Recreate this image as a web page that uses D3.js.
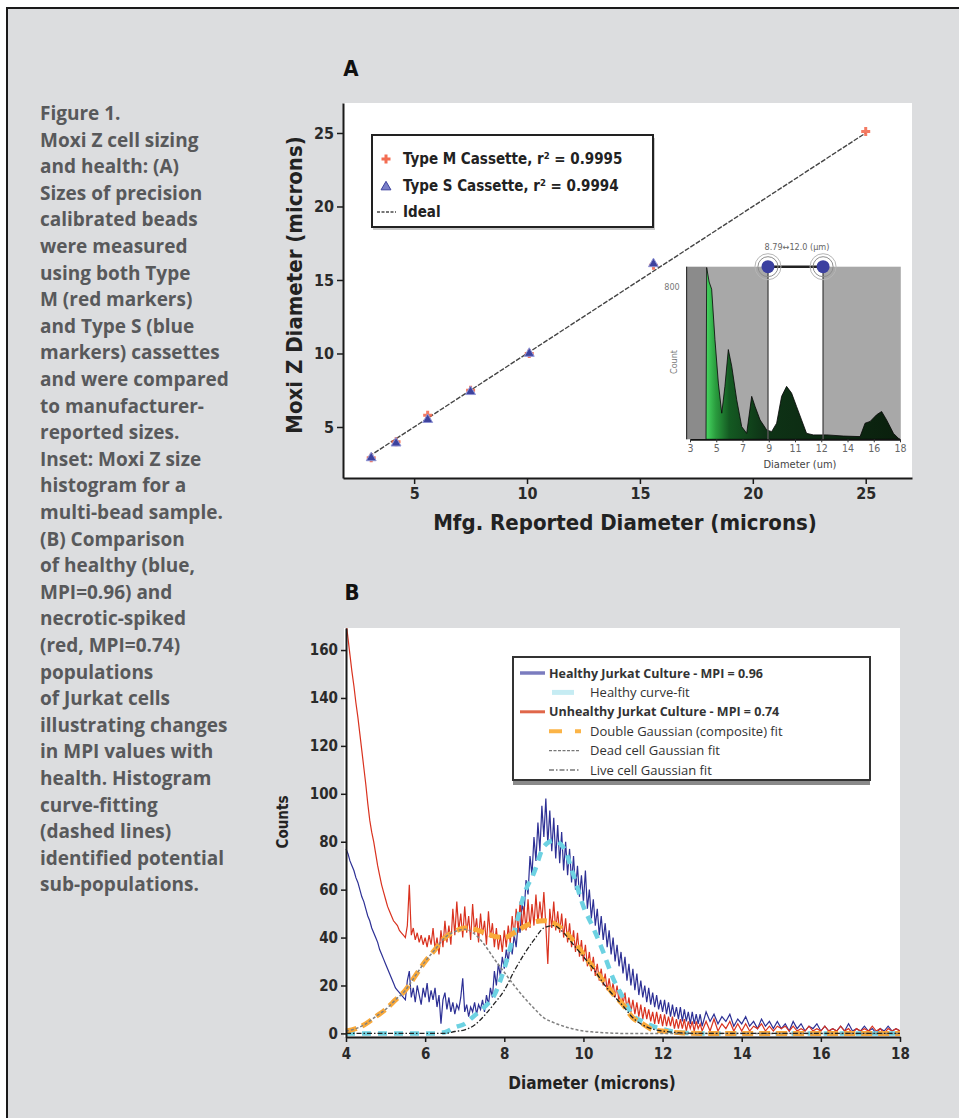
<!DOCTYPE html>
<html lang="en">
<head>
<meta charset="UTF-8">
<title>Figure 1 - Moxi Z cell sizing and health</title>
<script src="https://d3js.org/d3.v7.min.js"></script>
<style>
  html, body { margin: 0; padding: 0; background: #fff; }
  svg { display: block; }
  .cond { font-family: "Liberation Sans Narrow", "DejaVu Sans Condensed", "Roboto", sans-serif; font-weight: bold; }
  .caption { font-family: "Open Sans", sans-serif; font-weight: bold; font-size: 19px; fill: #58595b; }
  .leg { font-family: "Open Sans", sans-serif; fill: #333; }
</style>
</head>
<body>
<svg id="fig" width="959" height="1118"></svg>
<script>
// ---------- caption ----------
const captionLines = [
  "Figure 1.", "Moxi Z cell sizing", "and health: (A)", "Sizes of precision",
  "calibrated beads", "were measured", "using both Type", "M (red markers)",
  "and Type S (blue", "markers) cassettes", "and were compared", "to manufacturer-",
  "reported sizes.", "Inset: Moxi Z size", "histogram for a", "multi-bead sample.",
  "(B) Comparison", "of healthy (blue,", "MPI=0.96) and", "necrotic-spiked",
  "(red, MPI=0.74)", "populations", "of Jurkat cells", "illustrating changes",
  "in MPI values with", "health. Histogram", "curve-fitting", "(dashed lines)",
  "identified potential", "sub-populations."
];

// ---------- panel A: bead sizing ----------
const mfgDiameter   = [3.1, 4.2, 5.6, 7.5, 10.1, 15.6, 25.0];
const typeMDiameter = [2.9, 4.0, 5.8, 7.5, 10.0, 16.0, 25.1];
const typeSDiameter = [2.9, 3.9, 5.5, 7.4, 10.0, 16.1, null];
const idealRange = [3, 25];
const ticksA = [5, 10, 15, 20, 25];

// inset histogram (positions in tick-label index units)
const insetTickLabels = ["3", "5", "7", "9", "11", "12", "14", "16", "18"];
const insetBinPos = [0.61, 0.635, 0.73, 0.825, 0.95, 1.08, 1.21, 1.33, 1.46, 1.59,
  1.78, 1.97, 2.16, 2.35, 2.48, 2.67, 2.92, 3.11, 3.30, 3.49,
  3.68, 3.87, 4.06, 4.25, 4.44, 4.70, 5.21, 5.84, 6.48, 6.67,
  6.86, 7.11, 7.30, 7.49, 7.75, 7.94, 8.0];
const insetCounts = [0, 896, 820, 783, 521, 293, 136, 276, 468, 381,
  206, 66, 31, 224, 171, 101, 49, 40, 84, 224,
  276, 241, 171, 101, 31, 23, 23, 17, 14, 84,
  93, 128, 145, 101, 31, 5, 0];
const insetExtent = [-0.13, 8.03];
const insetDebrisCut = 0.61;
const insetGate = [2.97, 5.07];

// ---------- panel B: Jurkat histograms ----------
// bins: 0.05 um from 4.0 to 13.0, then 0.1 um up to 18.0
const binDiameter = d3.range(0, 181).map(i => +(4 + i * 0.05).toFixed(2))
  .concat(d3.range(1, 51).map(i => +(13 + i * 0.1).toFixed(1)));
const healthyCounts = [
  // 4.00 - 5.50
  77, 75, 72, 70, 68, 65, 63, 60, 57, 55, 52, 49, 47, 44, 42, 40,
  38, 35, 33, 31, 29, 27, 25, 23, 21, 19, 18, 17, 16, 15, 14,
  // 5.55 - 13.00
  22, 26, 15, 19, 13, 20, 16, 12, 19, 15,
  21, 13, 18, 14, 19, 11, 16, 4, 14, 17,
  10, 15, 9, 13, 8, 12, 10, 15, 23, 9,
  12, 7, 11, 9, 13, 8, 12, 10, 14, 9,
  16, 12, 19, 15, 26, 20, 29, 24, 32, 27,
  35, 30, 38, 33, 41, 36, 46, 42, 54, 50,
  64, 58, 74, 66, 82, 72, 88, 76, 95, 82,
  98, 79, 93, 76, 90, 73, 87, 71, 84, 68,
  80, 66, 77, 63, 74, 60, 70, 57, 66, 55,
  68, 52, 60, 48, 56, 45, 52, 41, 49, 39,
  46, 36, 43, 33, 40, 30, 37, 28, 34, 25,
  32, 22, 29, 20, 27, 18, 25, 16, 22, 15,
  20, 13, 19, 12, 17, 11, 16, 10, 14, 9,
  14, 8, 13, 7, 12, 7, 11, 6, 11, 5,
  10, 5, 9, 4, 9, 4, 8, 4, 8, 3,
  // 13.1 - 18.0
  9, 5, 8, 4, 7, 5, 8, 3, 6, 4,
  7, 3, 5, 2, 6, 3, 5, 2, 5, 2,
  4, 1, 5, 2, 4, 1, 3, 2, 4, 1,
  3, 1, 2, 1, 3, 1, 4, 1, 2, 1,
  3, 1, 2, 0, 2, 1, 3, 1, 2, 1
];
const unhealthyCounts = [
  // 4.00 - 5.50
  172, 165, 158, 151, 145, 138, 132, 125, 118, 111, 104, 96, 89, 84, 80, 75,
  70, 66, 62, 59, 56, 53, 51, 49, 47, 46, 45, 43, 42, 41, 40,
  // 5.55 - 13.00
  45, 62, 41, 44, 39, 42, 38, 41, 37, 40,
  36, 41, 37, 44, 35, 40, 33, 43, 36, 47,
  38, 45, 37, 52, 41, 55, 43, 50, 40, 53,
  42, 49, 39, 54, 42, 48, 38, 50, 41, 47,
  37, 51, 40, 46, 36, 44, 35, 41, 34, 43,
  36, 45, 38, 49, 40, 52, 42, 55, 44, 53,
  43, 56, 44, 54, 45, 58, 46, 55, 47, 59,
  45, 29, 52, 44, 55, 43, 51, 42, 50, 40,
  48, 38, 46, 36, 43, 34, 42, 32, 39, 30,
  37, 28, 34, 26, 32, 24, 29, 22, 27, 20,
  25, 18, 23, 17, 21, 15, 20, 13, 18, 12,
  17, 10, 15, 9, 14, 8, 13, 7, 12, 6,
  11, 6, 10, 5, 9, 4, 9, 4, 8, 3,
  8, 3, 7, 3, 7, 2, 6, 2, 6, 2,
  6, 1, 5, 2, 5, 1, 5, 2, 4, 1,
  // 13.1 - 18.0
  5, 1, 6, 1, 4, 2, 5, 1, 4, 1,
  4, 1, 3, 2, 4, 1, 3, 1, 3, 2,
  3, 1, 3, 1, 2, 1, 3, 1, 2, 1,
  3, 1, 2, 1, 3, 1, 2, 0, 2, 1,
  2, 1, 3, 1, 2, 0, 2, 1, 2, 1
];

// curve fits
const fitDiameter = [4.0, 4.25, 4.5, 4.75, 5.0, 5.25, 5.5, 5.75, 6.0, 6.25,
  6.5, 6.75, 7.0, 7.25, 7.5, 7.75, 8.0, 8.25, 8.5, 8.75,
  9.0, 9.25, 9.5, 9.75, 10.0, 10.25, 10.5, 10.75, 11.0, 11.25,
  11.5, 11.75, 12.0, 12.25, 12.5, 13, 14, 15, 16, 17, 18];
const healthyFit = [0, 0, 0, 0, 0, 0, 0, 0, 0, 0,
  0.5, 2.5, 4, 7.5, 11, 16, 27, 42, 58, 67,
  78, 80.5, 77.5, 66, 53, 44, 34, 23, 15, 7.5,
  5, 3, 1.8, 0.8, 0.3, 0, 0, 0, 0, 0, 0];
const compositeFit = [1, 2, 4, 7, 10, 14, 18, 24, 30, 35,
  40, 42.5, 44, 43.5, 42, 40.5, 40, 42, 44.5, 46.5,
  47, 46, 43, 38.5, 33, 27.5, 22, 16.5, 12, 6.5,
  4, 1.5, 1, 0.5, 0.2, 0, 0, 0, 0, 0, 0];
const deadCellFit = [1, 2, 4, 7, 10, 14, 18, 24, 30, 35,
  40, 42.5, 43.5, 41.5, 37, 31, 25.5, 20, 15, 10.5,
  6.5, 4.5, 3, 1.8, 1, 0.6, 0.3, 0.1, 0, 0,
  0, 0, 0, 0, 0, 0, 0, 0, 0, 0, 0];
const liveCellFit = [0, 0, 0, 0, 0, 0, 0, 0, 0, 0,
  0, 0.8, 1.5, 3.5, 7.5, 12.5, 18, 26, 33, 39,
  44, 45, 42, 37, 32, 27, 21, 16, 11.5, 6.5,
  3.5, 1.8, 1, 0.5, 0.2, 0, 0, 0, 0, 0, 0];
const ticksBx = [4, 6, 8, 10, 12, 14, 16, 18];
const ticksBy = [0, 20, 40, 60, 80, 100, 120, 140, 160];

// ================= drawing =================
const svg = d3.select("#fig");

// page frame
svg.append("rect").attr("x", 7).attr("y", 8).attr("width", 952).attr("height", 1110).attr("fill", "#dcdddf");
svg.append("path").attr("d", "M7,1118V8H959").attr("fill", "none").attr("stroke", "#1a1a1a").attr("stroke-width", 2);

// caption
svg.append("g").selectAll("text")
  .data(captionLines)
  .join("text")
    .attr("class", "caption")
    .attr("x", 40)
    .attr("y", (d, i) => 120 + i * 26.6)
    .text(d => d);

function styleAxis(g, size) {
  g.select(".domain").attr("stroke", "#1a1a1a").attr("stroke-width", 2);
  g.selectAll(".tick line").attr("stroke", "#1a1a1a").attr("stroke-width", 1.5);
  g.selectAll(".tick text").attr("class", "cond").attr("fill", "#2a2a2a").style("font-size", size + "px");
}

// ---------- panel A ----------
const xA = d3.scaleLinear().domain([1.85, 27.05]).range([343, 912]);
const yA = d3.scaleLinear().domain([1.53, 27.04]).range([478, 103]);

svg.append("text").attr("class", "cond").attr("x", 351).attr("y", 76)
  .attr("text-anchor", "middle").style("font-size", "22px").attr("fill", "#111").text("A");

svg.append("rect").attr("x", 343).attr("y", 103).attr("width", 569).attr("height", 375).attr("fill", "#fff");

svg.append("g").attr("transform", "translate(0,478)")
  .call(d3.axisBottom(xA).tickValues(ticksA).tickSize(6).tickSizeOuter(0).tickPadding(4))
  .call(g => styleAxis(g, 16));
svg.append("g").attr("transform", "translate(343,0)")
  .call(d3.axisLeft(yA).tickValues(ticksA).tickSize(6).tickSizeOuter(0).tickPadding(3))
  .call(g => styleAxis(g, 16));

svg.append("text").attr("class", "cond")
  .attr("transform", "translate(302,285) rotate(-90)")
  .attr("text-anchor", "middle").style("font-size", "22px").attr("fill", "#222")
  .text("Moxi Z Diameter (microns)");
svg.append("text").attr("class", "cond")
  .attr("x", 625).attr("y", 530)
  .attr("text-anchor", "middle").style("font-size", "22px").attr("fill", "#222")
  .text("Mfg. Reported Diameter (microns)");

// ideal line
svg.append("line")
  .attr("x1", xA(idealRange[0])).attr("y1", yA(idealRange[0]))
  .attr("x2", xA(idealRange[1])).attr("y2", yA(idealRange[1]))
  .attr("stroke", "#444").attr("stroke-width", 1.4).attr("stroke-dasharray", "5,1.5");

const crossSym = d3.symbol().type(d3.symbolCross).size(45);
const triSym = d3.symbol().type(d3.symbolTriangle).size(42);

svg.append("g").selectAll("path")
  .data(mfgDiameter.map((d, i) => [d, typeMDiameter[i]]))
  .join("path")
    .attr("d", crossSym)
    .attr("transform", d => `translate(${xA(d[0])},${yA(d[1])})`)
    .attr("fill", "#f36d52").attr("opacity", 0.9);
svg.append("g").selectAll("path")
  .data(mfgDiameter.map((d, i) => [d, typeSDiameter[i]]).filter(d => d[1] != null))
  .join("path")
    .attr("d", triSym)
    .attr("transform", d => `translate(${xA(d[0])},${yA(d[1])})`)
    .attr("fill", "#3d429e").attr("stroke", "#8e93d4").attr("stroke-width", 1);

// legend A
const legA = svg.append("g");
legA.append("rect").attr("x", 373).attr("y", 138).attr("width", 282).attr("height", 92).attr("fill", "#c9c9c9");
legA.append("rect").attr("x", 372).attr("y", 135).attr("width", 281).attr("height", 92)
  .attr("fill", "#fff").attr("stroke", "#222").attr("stroke-width", 2);
legA.append("path").attr("d", crossSym).attr("transform", "translate(386,159)").attr("fill", "#f36d52");
legA.append("path").attr("d", triSym).attr("transform", "translate(386,187)")
  .attr("fill", "#7a7fc8").attr("stroke", "#3d429e").attr("stroke-width", 1);
legA.append("line").attr("x1", 377).attr("x2", 396).attr("y1", 212).attr("y2", 212)
  .attr("stroke", "#4a4a4a").attr("stroke-width", 1.3).attr("stroke-dasharray", "3,1.5");
const legAText = [["Type M Cassette, r", "2", " = 0.9995"], ["Type S Cassette, r", "2", " = 0.9994"], ["Ideal"]];
legAText.forEach((parts, i) => {
  const t = legA.append("text").attr("class", "cond").attr("x", 403).attr("y", 164 + i * 26.5)
    .style("font-size", "15px").attr("fill", "#222");
  t.append("tspan").text(parts[0]);
  if (parts.length > 1) {
    t.append("tspan").attr("dy", -5).style("font-size", "9.5px").text(parts[1]);
    t.append("tspan").attr("dy", 5).text(parts[2]);
  }
});

// inset histogram
const xi = d3.scaleLinear().domain([0, 8]).range([690, 900]);
const yi = d3.scaleLinear().domain([0, 900]).range([439.3, 266.7]);
const inset = svg.append("g");
inset.append("rect").attr("x", xi(insetExtent[0])).attr("y", yi(900))
  .attr("width", xi(insetDebrisCut) - xi(insetExtent[0])).attr("height", yi(0) - yi(900)).attr("fill", "#8b8b8b");
inset.append("rect").attr("x", xi(insetDebrisCut)).attr("y", yi(900))
  .attr("width", xi(insetGate[0]) - xi(insetDebrisCut)).attr("height", yi(0) - yi(900)).attr("fill", "#a8a8a8");
inset.append("rect").attr("x", xi(insetGate[0])).attr("y", yi(900))
  .attr("width", xi(insetGate[1]) - xi(insetGate[0])).attr("height", yi(0) - yi(900)).attr("fill", "#fff");
inset.append("rect").attr("x", xi(insetGate[1])).attr("y", yi(900))
  .attr("width", xi(insetExtent[1]) - xi(insetGate[1])).attr("height", yi(0) - yi(900)).attr("fill", "#a8a8a8");

const defs = svg.append("defs");
const grad = defs.append("linearGradient").attr("id", "histGreen")
  .attr("gradientUnits", "userSpaceOnUse")
  .attr("x1", xi(insetDebrisCut)).attr("x2", xi(8)).attr("y1", 0).attr("y2", 0);
[[0, "#47d862"], [0.05, "#2a9c3e"], [0.12, "#145a22"], [0.3, "#0e3316"], [1, "#0a1f0d"]]
  .forEach(s => grad.append("stop").attr("offset", s[0]).attr("stop-color", s[1]));

inset.append("path")
  .datum(insetBinPos.map((d, i) => [d, insetCounts[i]]))
  .attr("d", d3.area().x(d => xi(d[0])).y0(yi(0)).y1(d => yi(d[1])))
  .attr("fill", "url(#histGreen)").attr("stroke", "#050505").attr("stroke-width", 0.8);

inset.append("line").attr("x1", xi(insetExtent[0])).attr("x2", xi(insetExtent[0]))
  .attr("y1", yi(900)).attr("y2", yi(0)).attr("stroke", "#333").attr("stroke-width", 1.2);
inset.append("g").attr("transform", `translate(0,${yi(0)})`)
  .call(d3.axisBottom(xi).tickValues(d3.range(insetTickLabels.length))
    .tickFormat(i => insetTickLabels[i]).tickSize(3).tickSizeOuter(0).tickPadding(2))
  .call(g => {
    g.select(".domain").attr("stroke", "#111").attr("stroke-width", 1.8);
    g.selectAll(".tick line").attr("stroke", "#333");
    g.selectAll(".tick text").attr("class", "cond").style("font-weight", "normal").style("font-size", "10.5px").attr("fill", "#666");
  });
inset.append("text").attr("class", "cond").attr("x", 800).attr("y", 468).attr("text-anchor", "middle")
  .style("font-size", "11px").style("font-weight", "normal").attr("fill", "#444").text("Diameter (um)");
inset.append("text").attr("class", "cond").attr("x", 672).attr("y", yi(800) + 4).attr("text-anchor", "middle")
  .style("font-size", "9px").style("font-weight", "normal").attr("fill", "#777").text("800");
inset.append("text").attr("class", "cond").attr("transform", "translate(677,362) rotate(-90)").attr("text-anchor", "middle")
  .style("font-size", "9px").style("font-weight", "normal").attr("fill", "#777").text("Count");

// gate markers
insetGate.forEach(g => {
  inset.append("line").attr("x1", xi(g)).attr("x2", xi(g)).attr("y1", yi(900)).attr("y2", yi(0))
    .attr("stroke", "#555").attr("stroke-width", 1.5);
});
inset.append("line").attr("x1", xi(insetGate[0])).attr("x2", xi(insetGate[1]))
  .attr("y1", yi(900)).attr("y2", yi(900)).attr("stroke", "#222").attr("stroke-width", 2.5);
insetGate.forEach(g => {
  const cx = xi(g), cy = yi(900);
  inset.append("circle").attr("cx", cx).attr("cy", cy).attr("r", 13).attr("fill", "none").attr("stroke", "#b5b5b5").attr("stroke-width", 1);
  inset.append("circle").attr("cx", cx).attr("cy", cy).attr("r", 10).attr("fill", "none").attr("stroke", "#8d8d8d").attr("stroke-width", 1);
  inset.append("circle").attr("cx", cx).attr("cy", cy).attr("r", 6.5).attr("fill", "#3b40a0");
});
inset.append("text").attr("class", "cond").attr("x", 797).attr("y", 250).attr("text-anchor", "middle")
  .style("font-size", "9px").style("font-weight", "normal").attr("fill", "#666").text("8.79↔12.0 (µm)");

// ---------- panel B ----------
const xB = d3.scaleLinear().domain([4, 18]).range([346, 900]);
const yB = d3.scaleLinear().domain([-1.5, 169.2]).range([1037, 628]);

svg.append("text").attr("class", "cond").attr("x", 352).attr("y", 600)
  .attr("text-anchor", "middle").style("font-size", "22px").attr("fill", "#111").text("B");

svg.append("rect").attr("x", 344).attr("y", 628).attr("width", 556).attr("height", 409).attr("fill", "#fff");
defs.append("clipPath").attr("id", "clipB")
  .append("rect").attr("x", 344).attr("y", 628).attr("width", 556).attr("height", 409);

const plotB = svg.append("g").attr("clip-path", "url(#clipB)");
const lineB = d3.line().x(d => xB(d[0])).y(d => yB(d[1]));
const fitLine = d3.line().x(d => xB(d[0])).y(d => yB(d[1])).curve(d3.curveMonotoneX);

plotB.append("path")
  .datum(binDiameter.map((d, i) => [d, healthyCounts[i]]))
  .attr("d", lineB).attr("fill", "none").attr("stroke", "#2d3095").attr("stroke-width", 1.2);
plotB.append("path")
  .datum(binDiameter.map((d, i) => [d, unhealthyCounts[i]]))
  .attr("d", lineB).attr("fill", "none").attr("stroke", "#d9321f").attr("stroke-width", 1.2);

const fits = [
  { values: healthyFit, color: "#6dd2e2", width: 4.5, dash: "9,7" },
  { values: compositeFit, color: "#f9a93a", width: 5, dash: "11,6" },
  { values: deadCellFit, color: "#808080", width: 1.5, dash: "3,2" },
  { values: liveCellFit, color: "#222", width: 1.3, dash: "5,2,1.5,2" }
];
fits.forEach(f => {
  plotB.append("path")
    .datum(fitDiameter.map((d, i) => [d, f.values[i]]))
    .attr("d", fitLine).attr("fill", "none")
    .attr("stroke", f.color).attr("stroke-width", f.width).attr("stroke-dasharray", f.dash);
});

svg.append("g").attr("transform", "translate(0,1037)")
  .call(d3.axisBottom(xB).tickValues(ticksBx).tickSize(5).tickSizeOuter(0).tickPadding(6))
  .call(g => styleAxis(g, 15));
svg.append("g").attr("transform", "translate(346,0)")
  .call(d3.axisLeft(yB).tickValues(ticksBy).tickSize(5).tickSizeOuter(0).tickPadding(3))
  .call(g => styleAxis(g, 15));

svg.append("text").attr("class", "cond")
  .attr("transform", "translate(288,822) rotate(-90)")
  .attr("text-anchor", "middle").style("font-size", "15px").attr("fill", "#222").text("Counts");
svg.append("text").attr("class", "cond")
  .attr("x", 592).attr("y", 1089)
  .attr("text-anchor", "middle").style("font-size", "17px").attr("fill", "#222").text("Diameter (microns)");

// legend B
const legB = svg.append("g");
legB.append("rect").attr("x", 513).attr("y", 657).attr("width", 357).attr("height", 128).attr("fill", "#8a8a8a");
legB.append("rect").attr("x", 513).attr("y", 657).attr("width", 357).attr("height", 123)
  .attr("fill", "#fff").attr("stroke", "#333").attr("stroke-width", 2);
const legBItems = [
  { text: "Healthy Jurkat Culture - MPI = 0.96", bold: true, x1: 520, x2: 545, color: "#7b7cbf", width: 3.5, dash: null },
  { text: "Healthy curve-fit", bold: false, x1: 552, x2: 574, color: "#c6ecf3", width: 5, dash: null },
  { text: "Unhealthy Jurkat Culture - MPI = 0.74", bold: true, x1: 520, x2: 545, color: "#e0674a", width: 3, dash: null },
  { text: "Double Gaussian (composite) fit", bold: false, x1: 549, x2: 581, color: "#fbb447", width: 4, dash: "13,13" },
  { text: "Dead cell Gaussian fit", bold: false, x1: 549, x2: 580, color: "#777", width: 1.2, dash: "3,1.5" },
  { text: "Live cell Gaussian fit", bold: false, x1: 549, x2: 580, color: "#333", width: 1.2, dash: "5,2,1.5,2" }
];
legBItems.forEach((it, i) => {
  const y = 673 + i * 19.4;
  legB.append("line").attr("x1", it.x1).attr("x2", it.x2).attr("y1", y).attr("y2", y)
    .attr("stroke", it.color).attr("stroke-width", it.width).attr("stroke-dasharray", it.dash);
  legB.append("text").attr("class", "leg")
    .attr("x", it.bold ? 549 : 590).attr("y", y + 4.5)
    .style("font-size", it.bold ? "12.5px" : "13px")
    .style("font-weight", it.bold ? "bold" : "normal")
    .attr("fill", it.bold ? "#222" : "#3a3a3a")
    .text(it.text);
});
</script>
</body>
</html>
